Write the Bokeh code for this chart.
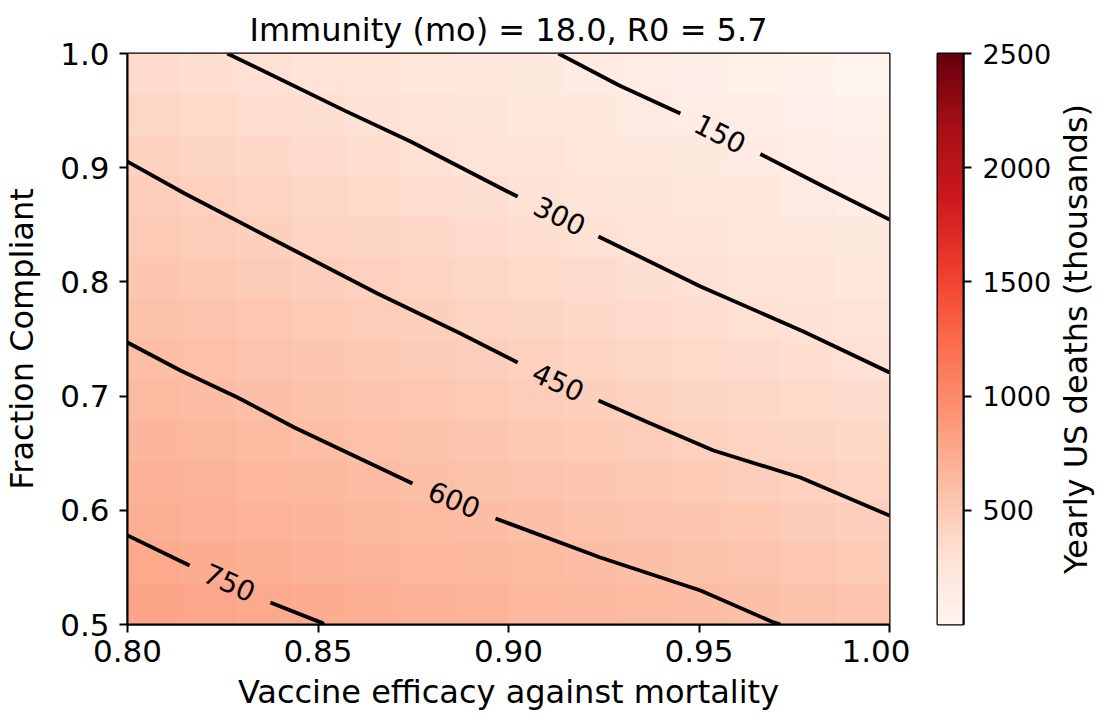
import math
import numpy as np
from bokeh.plotting import figure
from bokeh.models import LinearColorMapper, FixedTicker, Range1d
from bokeh.layouts import row
from bokeh.palettes import Reds256
from bokeh.embed import file_html
from bokeh.resources import INLINE
from bokeh.core.properties import value

# ---------------- data ----------------
title_text = "Immunity (mo) = 18.0, R0 = 5.7"
x_label = "Vaccine efficacy against mortality"
y_label = "Fraction Compliant"
cbar_label = "Yearly US deaths (thousands)"

efficacy_range = [0.80, 1.00]
compliance_range = [0.5, 1.0]
x_ticks = [0.80, 0.85, 0.90, 0.95, 1.00]
x_tick_labels = ["0.80", "0.85", "0.90", "0.95", "1.00"]
y_ticks = [0.5, 0.6, 0.7, 0.8, 0.9, 1.0]
y_tick_labels = ["0.5", "0.6", "0.7", "0.8", "0.9", "1.0"]
cbar_range = [0, 2500]
cbar_ticks = [500, 1000, 1500, 2000, 2500]
cbar_tick_labels = ["500", "1000", "1500", "2000", "2500"]

# yearly deaths (thousands), 14 x 14 cells; rows from compliance 0.5 (bottom) to 1.0 (top)
deaths_row_00 = [793, 775, 754, 735, 716, 696, 678, 663, 649, 634, 615, 591, 568, 546]
deaths_row_01 = [762, 742, 721, 702, 682, 662, 643, 627, 611, 592, 573, 550, 527, 506]
deaths_row_02 = [730, 710, 689, 668, 648, 628, 609, 591, 572, 552, 531, 508, 487, 467]
deaths_row_03 = [698, 678, 656, 635, 614, 594, 573, 553, 533, 511, 489, 467, 446, 426]
deaths_row_04 = [666, 645, 623, 602, 580, 558, 536, 515, 493, 470, 447, 427, 406, 384]
deaths_row_05 = [634, 613, 590, 568, 545, 523, 500, 478, 454, 431, 409, 388, 366, 342]
deaths_row_06 = [602, 579, 556, 534, 511, 488, 464, 440, 416, 394, 371, 349, 326, 300]
deaths_row_07 = [569, 546, 522, 499, 476, 452, 427, 403, 379, 356, 333, 310, 285, 260]
deaths_row_08 = [535, 512, 488, 465, 441, 415, 390, 366, 342, 318, 295, 271, 246, 220]
deaths_row_09 = [501, 478, 454, 429, 403, 378, 353, 329, 304, 281, 257, 232, 207, 180]
deaths_row_10 = [467, 443, 417, 391, 366, 341, 316, 292, 267, 243, 219, 194, 167, 141]
deaths_row_11 = [431, 405, 379, 353, 328, 303, 278, 254, 230, 205, 181, 155, 129, 103]
deaths_row_12 = [392, 366, 341, 315, 290, 264, 240, 217, 192, 167, 143, 118, 92, 64]
deaths_row_13 = [354, 328, 302, 277, 250, 224, 202, 179, 155, 130, 106, 81, 56, 26]

# contour lines (efficacy, compliance), split where the inline label sits
c150_x_a = [0.9131, 0.9291, 0.9451]
c150_y_a = [1.0000, 0.9720, 0.9475]
c150_x_b = [0.9661, 0.9827, 1.0000]
c150_y_b = [0.9120, 0.8835, 0.8546]
c150_label = [0.9556, 0.9300]

c300_x_a = [0.8262, 0.8570, 0.8743, 0.8997, 0.9024]
c300_y_a = [1.0000, 0.9500, 0.9229, 0.8792, 0.8748]
c300_x_b = [0.9236, 0.9504, 0.9774, 1.0000]
c300_y_b = [0.8398, 0.7960, 0.7566, 0.7207]
c300_label = [0.9135, 0.8580]

c450_x_a = [0.8000, 0.8150, 0.8438, 0.8656, 0.8874, 0.9024]
c450_y_a = [0.9054, 0.8774, 0.8275, 0.7898, 0.7548, 0.7294]
c450_x_b = [0.9236, 0.9373, 0.9538, 0.9766, 1.0000]
c450_y_b = [0.6961, 0.6760, 0.6524, 0.6287, 0.5954]
c450_label = [0.9131, 0.7125]

c600_x_a = [0.8000, 0.8139, 0.8289, 0.8438, 0.8748]
c600_y_a = [0.7469, 0.7224, 0.6988, 0.6725, 0.6235]
c600_x_b = [0.8966, 0.9241, 0.9504, 0.9696, 0.9714]
c600_y_b = [0.5928, 0.5587, 0.5298, 0.5018, 0.5000]
c600_label = [0.8858, 0.6095]

c750_x_a = [0.8000, 0.8163]
c750_y_a = [0.5780, 0.5517]
c750_x_b = [0.8375, 0.8512, 0.8514]
c750_y_b = [0.5193, 0.5012, 0.5000]
c750_label = [0.8268, 0.5370]

# ---------------- figure ----------------
FONT = "DejaVu Sans"
H = 714
TOP, BOTTOM = 53, 90
FRAME_W, FRAME_H = 762, H - TOP - BOTTOM

deaths = np.array([deaths_row_00, deaths_row_01, deaths_row_02, deaths_row_03,
                   deaths_row_04, deaths_row_05, deaths_row_06, deaths_row_07,
                   deaths_row_08, deaths_row_09, deaths_row_10, deaths_row_11,
                   deaths_row_12, deaths_row_13], dtype=float)

mapper = LinearColorMapper(palette=list(reversed(Reds256)), low=cbar_range[0], high=cbar_range[1])

p = figure(width=910, height=H, output_backend="svg", toolbar_location=None,
           x_range=Range1d(*efficacy_range), y_range=Range1d(*compliance_range),
           min_border_left=127, min_border_right=21, min_border_top=TOP, min_border_bottom=BOTTOM)
p.image(image=[deaths], x=efficacy_range[0], y=compliance_range[0],
        dw=efficacy_range[1] - efficacy_range[0], dh=compliance_range[1] - compliance_range[0],
        color_mapper=mapper)

ppx = FRAME_W / (efficacy_range[1] - efficacy_range[0])
ppy = FRAME_H / (compliance_range[1] - compliance_range[0])

contours = [
    (150, c150_x_a, c150_y_a, c150_x_b, c150_y_b, c150_label),
    (300, c300_x_a, c300_y_a, c300_x_b, c300_y_b, c300_label),
    (450, c450_x_a, c450_y_a, c450_x_b, c450_y_b, c450_label),
    (600, c600_x_a, c600_y_a, c600_x_b, c600_y_b, c600_label),
    (750, c750_x_a, c750_y_a, c750_x_b, c750_y_b, c750_label),
]
for level, xa, ya, xb, yb, lab in contours:
    p.line(xa, ya, line_color="black", line_width=3.8)
    p.line(xb, yb, line_color="black", line_width=3.8)
    ang = math.atan2((yb[0] - ya[-1]) * ppy, (xb[0] - xa[-1]) * ppx)
    p.text(x=[lab[0]], y=[lab[1]], text=[str(level)], angle=ang,
           text_align="center", text_baseline="middle",
           text_font=value(FONT), text_font_size="28px", text_color="black")

p.title.text = title_text
p.title.align = "center"
p.title.text_font = FONT
p.title.text_font_size = "32px"
p.title.text_font_style = "normal"
p.title.text_color = "black"

p.grid.visible = False
p.outline_line_color = "black"
p.outline_line_width = 2
p.outline_line_alpha = 1

for ax in (p.xaxis[0], p.yaxis[0]):
    ax.axis_label_text_font = FONT
    ax.axis_label_text_font_size = "32px"
    ax.axis_label_text_font_style = "normal"
    ax.axis_label_text_color = "black"
    ax.major_label_text_font = FONT
    ax.major_label_text_font_size = "31px"
    ax.major_label_text_color = "black"
    ax.major_tick_line_color = "black"
    ax.major_tick_line_width = 2
    ax.major_tick_out = 8
    ax.major_tick_in = 0
    ax.minor_tick_line_color = None
    ax.axis_line_color = "black"
    ax.axis_line_width = 2

p.xaxis.axis_label = x_label
p.yaxis.axis_label = y_label
p.xaxis.ticker = FixedTicker(ticks=x_ticks)
p.yaxis.ticker = FixedTicker(ticks=y_ticks)
p.xaxis.major_label_overrides = dict(zip(x_ticks, x_tick_labels))
p.yaxis.major_label_overrides = dict(zip(y_ticks, y_tick_labels))
p.xaxis.major_label_standoff = 7
p.xaxis.axis_label_standoff = 8
p.yaxis.major_label_standoff = 10
p.yaxis.axis_label_standoff = 16

# colour bar as its own narrow figure
cb = figure(width=144, height=H, output_backend="svg", toolbar_location=None,
            x_range=Range1d(0, 1), y_range=Range1d(*cbar_range),
            x_axis_location=None, y_axis_location="right",
            min_border_left=27, min_border_right=89, min_border_top=TOP, min_border_bottom=BOTTOM)
grad = np.linspace(cbar_range[0], cbar_range[1], 256).reshape(256, 1)
cb.image(image=[grad], x=0, y=cbar_range[0], dw=1, dh=cbar_range[1] - cbar_range[0], color_mapper=mapper)
cb.grid.visible = False
cb.outline_line_color = "black"
cb.outline_line_width = 2
cb.outline_line_alpha = 1
ay = cb.yaxis[0]
ay.ticker = FixedTicker(ticks=cbar_ticks)
ay.major_label_overrides = dict(zip(cbar_ticks, cbar_tick_labels))
ay.major_label_text_font = FONT
ay.major_label_text_font_size = "27px"
ay.major_label_text_color = "black"
ay.major_tick_line_color = "black"
ay.major_tick_line_width = 2
ay.major_tick_out = 8
ay.major_tick_in = 0
ay.minor_tick_line_color = None
ay.axis_line_color = "black"
ay.axis_line_width = 2
ay.major_label_standoff = 11

# colour bar label: a narrow figure whose left-side title reads bottom-to-top
lf = figure(width=52, height=H, output_backend="svg", toolbar_location=None,
            x_range=Range1d(0, 1), y_range=Range1d(0, 1),
            x_axis_location=None, y_axis_location=None, title_location="left",
            min_border_left=0, min_border_right=0, min_border_top=TOP, min_border_bottom=BOTTOM)
lf.grid.visible = False
lf.outline_line_color = None
lf.title.text = cbar_label
lf.title.align = "center"
lf.title.text_font = FONT
lf.title.text_font_size = "32px"
lf.title.text_font_style = "normal"
lf.title.text_color = "black"
lf.title.standoff = 0

layout = row(p, cb, lf)
open("out.html", "w").write(file_html(layout, INLINE))
